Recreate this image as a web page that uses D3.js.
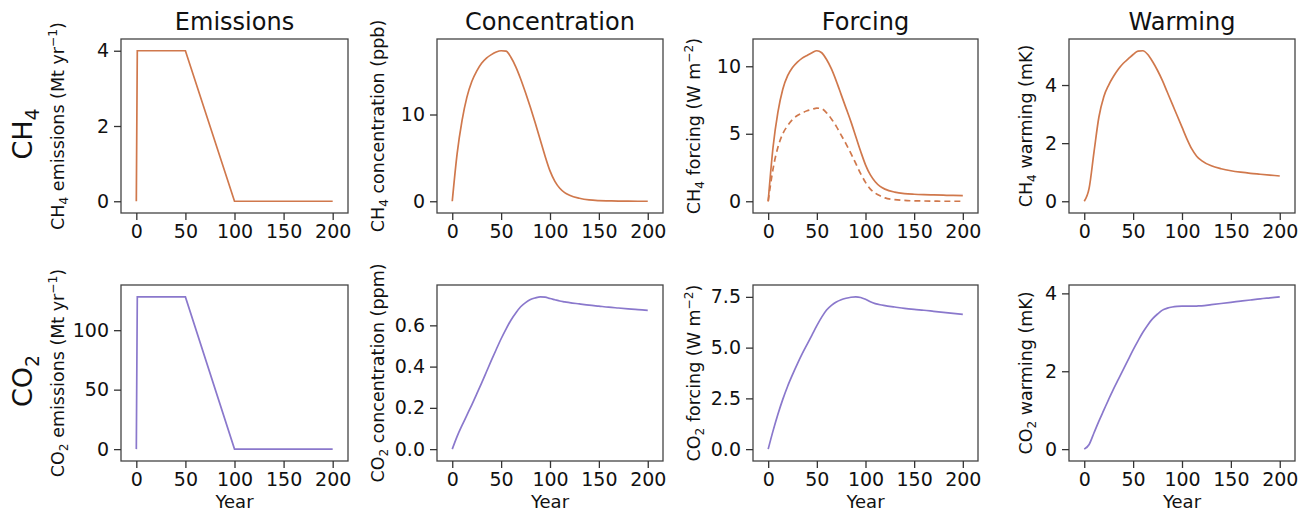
<!DOCTYPE html>
<html>
<head>
<meta charset="utf-8">
<script src="https://cdn.jsdelivr.net/npm/d3@7"></script>
<style>
    body { margin: 0; background: #fff; }
    text { font-family: "DejaVu Sans", sans-serif; fill: #111; }
</style>
</head>
<body>
<script>
// pulse emissions: step up at year 0-1, flat to 50, ramp down to 0 at 100
const emisYears = [0, 1, 50, 100, 200];
const ch4Emissions = [0, 4, 4, 0, 0];
const co2Emissions = [0, 128, 128, 0, 0];

// shared year grid for the response curves
const years = [0, 5, 10, 15, 20, 25, 30, 35, 40, 45, 50, 55, 60, 65, 70, 75, 80, 85, 90, 95,
    100, 105, 110, 115, 120, 130, 140, 150, 160, 170, 180, 190, 200];

const ch4Conc = [0, 5.5, 9.3, 12.0, 13.8, 15.0, 15.9, 16.5, 16.9, 17.2, 17.35, 17.3, 16.6, 15.5, 14.1, 12.5, 10.8, 9.0, 7.1, 5.2,
    3.5, 2.3, 1.5, 1.0, 0.7, 0.35, 0.15, 0.07, 0.04, 0.02, 0.01, 0, 0];
const ch4Forcing = [0, 4.0, 6.6, 8.3, 9.3, 9.9, 10.3, 10.6, 10.8, 11.0, 11.15, 11.0, 10.5, 9.8, 8.9, 7.9, 6.9, 5.9, 4.8, 3.7,
    2.7, 1.95, 1.45, 1.1, 0.9, 0.68, 0.57, 0.52, 0.49, 0.47, 0.45, 0.43, 0.42];
const ch4ForcingDirect = [0, 2.4, 4.0, 5.0, 5.6, 6.05, 6.35, 6.55, 6.7, 6.8, 6.9, 6.85, 6.55, 6.1, 5.55, 4.9, 4.25, 3.55, 2.8, 2.05,
    1.4, 0.9, 0.6, 0.4, 0.25, 0.12, 0.06, 0.03, 0.02, 0.01, 0, 0, 0];
const ch4Warming = [0, 0.45, 1.7, 2.9, 3.6, 4.0, 4.3, 4.55, 4.75, 4.9, 5.05, 5.17, 5.18, 5.05, 4.8, 4.5, 4.15, 3.75, 3.35, 2.95,
    2.55, 2.15, 1.8, 1.55, 1.4, 1.22, 1.12, 1.05, 1.0, 0.96, 0.93, 0.9, 0.87];

const co2Conc = [0, 0.062, 0.115, 0.165, 0.215, 0.267, 0.32, 0.375, 0.43, 0.483, 0.535, 0.582, 0.625, 0.66, 0.69, 0.71, 0.725, 0.733, 0.738, 0.737,
    0.73, 0.724, 0.718, 0.714, 0.71, 0.704, 0.698, 0.693, 0.688, 0.684, 0.68, 0.676, 0.673];
const co2Forcing = [0, 0.9, 1.72, 2.45, 3.1, 3.67, 4.2, 4.7, 5.16, 5.62, 6.08, 6.5, 6.85, 7.08, 7.25, 7.36, 7.43, 7.48, 7.5, 7.47,
    7.38, 7.26, 7.17, 7.11, 7.07, 7.0, 6.93, 6.88, 6.84, 6.79, 6.74, 6.69, 6.64];
const co2Warming = [0, 0.12, 0.42, 0.72, 1.0, 1.28, 1.55, 1.8, 2.05, 2.3, 2.55, 2.78, 3.0, 3.19, 3.35, 3.47, 3.57, 3.62, 3.65, 3.665,
    3.67, 3.67, 3.67, 3.675, 3.68, 3.71, 3.74, 3.77, 3.8, 3.83, 3.86, 3.885, 3.91];

const xTicks = [0, 50, 100, 150, 200];
const colTitles = ["Emissions", "Concentration", "Forcing", "Warming"];

function main() {

    let svg = d3.select("body").append("svg")
        .attr("width", 1309)
        .attr("height", 515);

    const ch4Color = "#d0784c";
    const co2Color = "#8a78cc";

    // frame boxes of the 4x2 grid
    const colX = [[121, 348], [437, 663], [753, 978], [1069, 1295]];
    const rowY = [[39, 213], [285, 461]];
    const ylabX = [64, 384, 700, 1032];

    const fmt0 = d3.format("d");
    const fmt1 = d3.format(".1f");

    let sub = (t) => ({ t: t, sub: true });
    let sup = (t) => ({ t: t, sup: true });

    let panels = [
        { row: 0, col: 0, x: emisYears, series: [{ y: ch4Emissions }], curve: d3.curveLinear, ticks: [0, 2, 4], fmt: fmt0, color: ch4Color,
          label: [{ t: "CH" }, sub("4"), { t: " emissions (Mt yr" }, sup("−1"), { t: ")" }] },
        { row: 0, col: 1, x: years, series: [{ y: ch4Conc }], ticks: [0, 10], fmt: fmt0, color: ch4Color,
          label: [{ t: "CH" }, sub("4"), { t: " concentration (ppb)" }] },
        { row: 0, col: 2, x: years, series: [{ y: ch4Forcing }, { y: ch4ForcingDirect, dash: "6,4" }], ticks: [0, 5, 10], fmt: fmt0, color: ch4Color,
          label: [{ t: "CH" }, sub("4"), { t: " forcing (W m" }, sup("−2"), { t: ")" }] },
        { row: 0, col: 3, x: years, series: [{ y: ch4Warming }], ticks: [0, 2, 4], fmt: fmt0, color: ch4Color,
          label: [{ t: "CH" }, sub("4"), { t: " warming (mK)" }] },
        { row: 1, col: 0, x: emisYears, series: [{ y: co2Emissions }], curve: d3.curveLinear, ticks: [0, 50, 100], fmt: fmt0, color: co2Color,
          label: [{ t: "CO" }, sub("2"), { t: " emissions (Mt yr" }, sup("−1"), { t: ")" }] },
        { row: 1, col: 1, x: years, series: [{ y: co2Conc }], ticks: [0, 0.2, 0.4, 0.6], fmt: fmt1, color: co2Color,
          label: [{ t: "CO" }, sub("2"), { t: " concentration (ppm)" }] },
        { row: 1, col: 2, x: years, series: [{ y: co2Forcing }], ticks: [0, 2.5, 5, 7.5], fmt: fmt1, color: co2Color,
          label: [{ t: "CO" }, sub("2"), { t: " forcing (W m" }, sup("−2"), { t: ")" }] },
        { row: 1, col: 3, x: years, series: [{ y: co2Warming }], ticks: [0, 2, 4], fmt: fmt0, color: co2Color,
          label: [{ t: "CO" }, sub("2"), { t: " warming (mK)" }] }
    ];

    // rich text with sub/superscripts
    function richText(sel, parts, size) {
        let shift = 0;
        parts.forEach(p => {
            let target = p.sub ? size * 0.25 : (p.sup ? -size * 0.42 : 0);
            let ts = sel.append("tspan").text(p.t).attr("dy", target - shift);
            if (p.sub || p.sup) ts.attr("font-size", size * 0.7);
            shift = target;
        });
    }

    const pad = 0.078;

    panels.forEach(p => {
        let [x0, x1] = colX[p.col];
        let [y0, y1] = rowY[p.row];

        let xScale = d3.scaleLinear().domain([-200 * pad, 200 * (1 + pad)]).range([x0, x1]);
        let maxY = d3.max(p.series, s => d3.max(s.y));
        let yScale = d3.scaleLinear().domain([-maxY * pad, maxY * (1 + pad)]).range([y1, y0]);

        let g = svg.append("g");

        p.series.forEach(s => {
            let line = d3.line()
                .x((d, i) => xScale(p.x[i]))
                .y(d => yScale(d))
                .curve(p.curve || d3.curveMonotoneX);
            g.append("path")
                .datum(s.y)
                .attr("d", line)
                .attr("fill", "none")
                .attr("stroke", p.color)
                .attr("stroke-width", 1.7)
                .attr("stroke-dasharray", s.dash || null);
        });

        g.append("rect")
            .attr("x", x0).attr("y", y0)
            .attr("width", x1 - x0).attr("height", y1 - y0)
            .attr("fill", "none")
            .attr("stroke", "#444")
            .attr("stroke-width", 1.3);

        let xAxis = d3.axisBottom(xScale).tickValues(xTicks).tickSize(7).tickPadding(5).tickFormat(fmt0);
        let yAxis = d3.axisLeft(yScale).tickValues(p.ticks).tickSize(7).tickPadding(5).tickFormat(p.fmt);

        let xa = g.append("g").attr("transform", `translate(0,${y1})`).call(xAxis);
        let ya = g.append("g").attr("transform", `translate(${x0},0)`).call(yAxis);
        [xa, ya].forEach(a => {
            a.select(".domain").remove();
            a.attr("font-family", null).attr("font-size", null);
            a.selectAll("line").attr("stroke", "#333").attr("stroke-width", 1.3);
            a.selectAll("text").style("font-size", "19px").attr("fill", "#111");
        });

        let lab = g.append("text")
            .attr("transform", `translate(${ylabX[p.col]},${(y0 + y1) / 2}) rotate(-90)`)
            .attr("text-anchor", "middle")
            .style("font-size", "17.5px");
        richText(lab, p.label, 17.5);

        if (p.row === 0) {
            svg.append("text")
                .attr("x", (x0 + x1) / 2)
                .attr("y", 30)
                .attr("text-anchor", "middle")
                .style("font-size", "24px")
                .text(colTitles[p.col]);
        } else {
            svg.append("text")
                .attr("x", (x0 + x1) / 2)
                .attr("y", 508)
                .attr("text-anchor", "middle")
                .style("font-size", "18px")
                .text("Year");
        }
    });

    // row labels
    let rowLabels = [[{ t: "CH" }, sub("4")], [{ t: "CO" }, sub("2")]];
    rowLabels.forEach((parts, r) => {
        let t = svg.append("text")
            .attr("transform", `translate(32,${(rowY[r][0] + rowY[r][1]) / 2 + 8}) rotate(-90)`)
            .attr("text-anchor", "middle")
            .style("font-size", "27px");
        richText(t, parts, 27);
    });
}

main()
</script>
</body>
</html>
